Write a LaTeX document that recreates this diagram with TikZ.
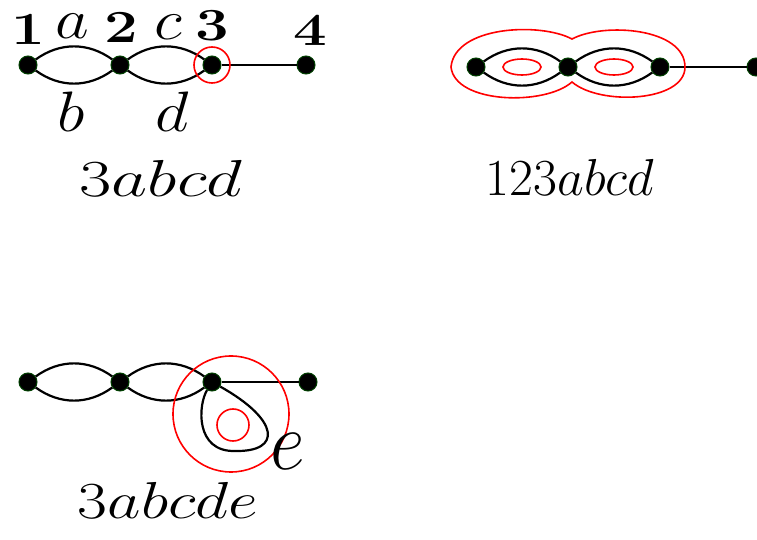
\RequirePackage{fix-cm}
\documentclass[tikz,border=0pt]{standalone}
\usepackage{amsmath}
\usepackage{graphicx}
\usepackage{tikz}
\usetikzlibrary{positioning,calc}

\begin{document}
\begin{tikzpicture}[x=0.5pt,y=-0.5pt,line width=1.1pt,
    vtx/.style={circle,fill=black,draw=black!75!green,line width=0.5pt,inner sep=0pt,minimum size=9pt},
    lbl/.style={font=\fontsize{28.5}{30}\selectfont,inner sep=0pt},
    num/.style={font=\fontsize{23}{26}\selectfont\bfseries,inner sep=0pt},
    captxt/.style={font=\fontsize{26}{30}\selectfont,inner sep=0pt},
    cut/.style={red,line width=0.8pt}]
  \useasboundingbox (0,0) rectangle (757,540);
  % first graph
  \node[vtx] (a1) at (28,65) {};
  \node[vtx] (a2) at (120,65) {};
  \node[vtx] (a3) at (212,65) {};
  \node[vtx] (a4) at (306,65) {};
  \draw (a1) .. controls +(32,-23) and +(-32,-23) .. (a2);
  \draw (a1) .. controls +(32,23) and +(-32,23) .. (a2);
  \draw (a2) .. controls +(32,-23) and +(-32,-23) .. (a3);
  \draw (a2) .. controls +(32,23) and +(-32,23) .. (a3);
  \draw (a3) -- (a4);
  \draw[cut] (a3) circle[radius=18];
  \node[num] (n1) at (28,29) {\scalebox{1.3}[1]{1}};
  \node[lbl] (ea) at (72,26) {\scalebox{1.15}[1]{$a$}};
  \node[num] (n2) at (121,27) {\scalebox{1.3}[1]{2}};
  \node[lbl] (ec) at (168,27) {\scalebox{1.15}[1]{$c$}};
  \node[num] (n3) at (212,26) {\scalebox{1.3}[1]{3}};
  \node[num] (n4) at (310,30) {\scalebox{1.3}[1]{4}};
  \node[lbl] (eb) at (71,112) {\scalebox{1.15}[1]{$b$}};
  \node[lbl] (ed) at (172,112) {\scalebox{1.15}[1]{$d$}};
  \node[captxt] (c1) at (161,178) {\scalebox{1.35}[1]{$3abcd$}};
  % second graph
  \node[vtx] (b1) at (476,67) {};
  \node[vtx] (b2) at (568,67) {};
  \node[vtx] (b3) at (660,67) {};
  \node[vtx] (b4) at (756,67) {};
  \draw (b1) .. controls +(32,-23) and +(-32,-23) .. (b2);
  \draw (b1) .. controls +(32,23) and +(-32,23) .. (b2);
  \draw (b2) .. controls +(32,-23) and +(-32,-23) .. (b3);
  \draw (b2) .. controls +(32,23) and +(-32,23) .. (b3);
  \draw (b3) -- (b4);
  \draw[cut] ($(b1)!0.5!(b2)$) ellipse[x radius=19,y radius=8];
  \draw[cut] ($(b2)!0.5!(b3)$) ellipse[x radius=19,y radius=8];
  \draw[cut] (572,39) .. controls (540,22) and (455,26) .. (451,67)
    .. controls (455,104) and (545,106) .. (572,82)
    .. controls (600,106) and (685,102) .. (685,67)
    .. controls (685,28) and (604,22) .. (572,39) -- cycle;
  \node[font=\fontsize{26}{30}\selectfont,inner sep=0pt] (c2) at (570,177) {$123abcd$};
  % third graph
  \node[vtx] (m1) at (28,382) {};
  \node[vtx] (m2) at (120,382) {};
  \node[vtx] (m3) at (212,382) {};
  \node[vtx] (m4) at (308,382) {};
  \draw (m1) .. controls +(32,-23) and +(-32,-23) .. (m2);
  \draw (m1) .. controls +(32,23) and +(-32,23) .. (m2);
  \draw (m2) .. controls +(32,-23) and +(-32,-23) .. (m3);
  \draw (m2) .. controls +(32,23) and +(-32,23) .. (m3);
  \draw (m3) -- (m4);
  \draw (m3) .. controls (198,405) and (195,452) .. (235,451)
    .. controls (282,452) and (280,420) .. (m3);
  \draw[cut] (233,425) circle[radius=16];
  \draw[cut] (231,414) circle[radius=58];
  \node[lbl,font=\fontsize{38}{40}\selectfont] (ee) at (288,452) {\scalebox{1}[1.1]{$e$}};
  \node[captxt] (c3) at (168,500) {\scalebox{1.25}[1]{$3abcde$}};
\end{tikzpicture}
\end{document}
